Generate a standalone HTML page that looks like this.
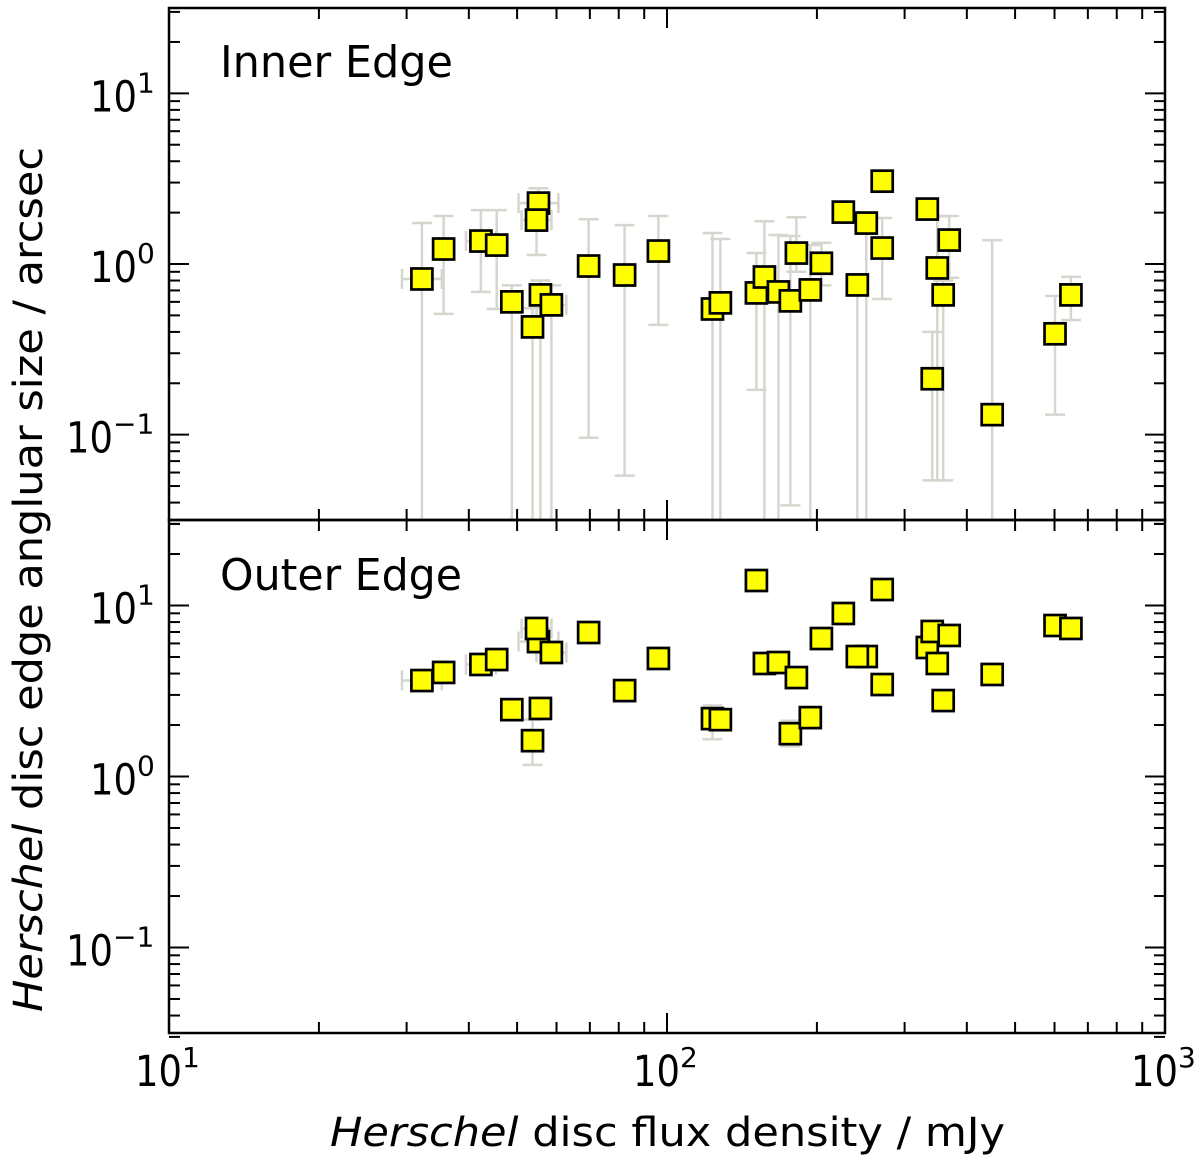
<!DOCTYPE html>
<html><head><meta charset="utf-8"><style>
html,body{margin:0;padding:0;background:#fff}
svg{display:block;font-family:"DejaVu Sans","Liberation Sans",sans-serif}
</style></head><body>
<svg id="chart" width="1200" height="1164" viewBox="0 0 1200 1164" xmlns="http://www.w3.org/2000/svg"></svg>
<script>
// Shared x values (flux density, mJy)
const fluxX = [32.2,35.6,42.3,45.5,48.8,55.2,54.7,55.7,53.7,58.6,69.6,82.2,96.1,123.4,128.0,151.2,156.9,167.4,176.9,181.9,194.0,204.2,226.0,251.3,241.1,270.5,270.5,333.2,340.9,348.9,358.6,368.7,449.8,601.4,647.3];
// Inner edge (arcsec)
const innerY = [0.817,1.224,1.363,1.291,0.600,2.274,1.808,0.659,0.428,0.576,0.973,0.862,1.191,0.545,0.592,0.677,0.839,0.686,0.608,1.159,0.705,1.01,2.014,1.737,0.754,3.057,1.24,2.098,0.2126,0.948,0.659,1.381,0.131,0.390,0.659];
const innerHi = [1.74,1.91,2.07,2.07,0.75,2.78,1.86,0.8,0.55,0.75,1.83,1.69,1.91,1.52,1.40,1.16,1.78,1.48,1.46,1.88,1.29,1.33,2.014,1.86,0.8,3.057,1.86,2.098,0.4,1.9,0.8,1.91,1.38,0.65,0.84];
const innerLo = [0.001,0.51,0.686,0.545,0.001,1.6,1.13,0.001,0.001,0.001,0.096,0.0575,0.44,0.001,0.001,0.183,0.001,0.001,0.0385,0.9,0.001,0.75,2.014,0.001,0.001,3.057,0.624,2.098,0.054,0.054,0.054,0.83,0.001,0.131,0.47];
// Outer edge (arcsec)
const outerY = [3.64,4.06,4.52,4.83,2.46,6.15,7.34,2.50,1.62,5.31,6.95,3.18,4.90,2.18,2.15,14.0,4.58,4.64,1.78,3.79,2.21,6.41,8.98,5.03,5.03,12.4,3.45,5.68,7.05,4.58,2.78,6.68,3.95,7.64,7.34];
const outerHi = [3.64,4.06,4.52,4.83,2.7,6.15,7.34,2.75,2.15,5.31,6.95,3.18,4.90,2.6,2.15,14.0,4.58,4.64,2.12,3.79,2.21,6.41,8.98,5.03,5.03,12.4,3.45,5.68,7.05,4.58,2.78,6.68,3.95,7.64,7.34];
const outerLo = [3.64,4.06,4.52,4.83,2.2,6.15,7.34,2.25,1.17,5.31,6.95,3.18,4.90,1.65,2.15,14.0,4.58,4.64,1.5,3.79,2.21,6.41,8.98,5.03,5.03,12.4,3.45,5.68,7.05,4.58,2.78,6.68,3.95,7.64,7.34];
// Horizontal error (dex)
const xErrDex = [0.04,0.02,0.03,0.02,0.01,0.04,0.03,0.02,0.01,0.03,0.01,0.01,0.01,0.01,0.01,0.01,0.01,0.01,0.01,0.01,0.01,0.01,0.01,0.01,0.01,0.01,0.01,0.01,0.01,0.01,0.01,0.01,0.01,0.01,0.01];
const xTickLabels = ["1","2","3"];
const yTickExps = ["1","0","\u22121"];

const svg = document.getElementById('chart');
const NS = 'http://www.w3.org/2000/svg';
const L = 169, R = 1165;
const panels = [{top:8,bot:520,name:'inner-edge-panel',title:'Inner Edge',ty:77,y:innerY,hi:innerHi,lo:innerLo},
                {top:520,bot:1033,name:'outer-edge-panel',title:'Outer Edge',ty:590,y:outerY,hi:outerHi,lo:outerLo}];
function xs(v){return L + (Math.log10(v)-1)/2*(R-L);}
function mk(tag,attrs,parent){const e=document.createElementNS(NS,tag);for(const k in attrs)e.setAttribute(k,attrs[k]);(parent||svg).appendChild(e);return e;}
function powLabel(parent,x,y,exp){
  const t=mk('text',{x:x,y:y,'font-size':43},parent);
  const a=mk('tspan',{textLength:47,lengthAdjust:'spacingAndGlyphs'},t); a.textContent='10';
  const s=mk('tspan',{dy:-19,'font-size':28},t); s.textContent=exp;
  return t;
}

panels.forEach((p,pi)=>{
  const g = mk('g',{});
  
  
  const ys = v => p.bot - (Math.log10(v)+1.5)/3*(p.bot-p.top);
  const clip = mk('clipPath',{id:'c'+pi},g);
  mk('rect',{x:L,y:p.top,width:R-L,height:p.bot-p.top},clip);
  const data = mk('g',{'clip-path':'url(#c'+pi+')'},g);
  fluxX.forEach((xv,i)=>{
    const x=xs(xv), y=ys(p.y[i]);
    const eb = mk('g',{stroke:'#d6d6cf','stroke-width':2.5,fill:'none'},data);
    
    
    if(p.hi[i]!==p.lo[i]){
      const yh=ys(p.hi[i]), yl=ys(p.lo[i]);
      mk('line',{x1:x,x2:x,y1:yh,y2:yl},eb);
      mk('line',{x1:x-10,x2:x+10,y1:yh,y2:yh},eb);
      mk('line',{x1:x-10,x2:x+10,y1:yl,y2:yl},eb);
    }
    const dx = xErrDex[i]*(R-L)/2;
    if(dx>3){
      mk('line',{x1:x-dx,x2:x+dx,y1:y,y2:y},eb);
      mk('line',{x1:x-dx,x2:x-dx,y1:y-10,y2:y+10},eb);
      mk('line',{x1:x+dx,x2:x+dx,y1:y-10,y2:y+10},eb);
    }
  });
  fluxX.forEach((xv,i)=>{
    const x=xs(xv), y=ys(p.y[i]);
    const r = mk('rect',{x:x-10.5,y:y-10.5,width:21,height:21,fill:'#ffff00',stroke:'#000','stroke-width':2.7},data);
    
    
  });
  const fr = mk('rect',{x:L,y:p.top,width:R-L,height:p.bot-p.top,fill:'none',stroke:'#000','stroke-width':2.5},g);
  
  
  const tk = mk('g',{stroke:'#000','stroke-width':2},g);
  for(let d=1;d<=3;d++){for(let m=1;m<=9;m++){
    const v=Math.pow(10,d)*m; if(v>1000) break;
    const x=xs(v), len=(m===1)?20:11;
    mk('line',{x1:x,x2:x,y1:p.bot,y2:p.bot-len},tk);
    mk('line',{x1:x,x2:x,y1:p.top,y2:p.top+len},tk);
  }}
  for(let d=-2;d<=1;d++){for(let m=1;m<=9;m++){
    const v=Math.pow(10,d)*m; if(v<0.03||v>30.5) continue;
    const y=ys(v), len=(m===1)?20:11;
    mk('line',{x1:L,x2:L+len,y1:y,y2:y},tk);
    mk('line',{x1:R,x2:R-len,y1:y,y2:y},tk);
  }}
  yTickExps.forEach((e,k)=>{
    const y=ys(Math.pow(10,1-k));
    const t=powLabel(g, e.length>1?66:90, y+18, e);
    
    
  });
  const tt=mk('text',{x:220,y:p.ty,'font-size':44,textLength:p.title==='Inner Edge'?233:242,lengthAdjust:'spacingAndGlyphs'},g);
  tt.textContent=p.title;
  
  
});
xTickLabels.forEach((e,k)=>{
  const x=xs(Math.pow(10,k+1));
  const t=powLabel(svg, x-34, 1086, e);
  
  
});
const xl=mk('text',{x:330,y:1146,'font-size':40,textLength:675,lengthAdjust:'spacingAndGlyphs'});


const xa=mk('tspan',{'font-style':'italic'},xl); xa.textContent='Herschel';
const xb=mk('tspan',{},xl); xb.textContent=' disc flux density / mJy';
const yl=mk('text',{x:-1012,y:42,'font-size':40,transform:'rotate(-90)',textLength:865,lengthAdjust:'spacingAndGlyphs'});


const ya=mk('tspan',{'font-style':'italic'},yl); ya.textContent='Herschel';
const yb=mk('tspan',{},yl); yb.textContent=' disc edge angluar size / arcsec';
</script>
</body></html>
